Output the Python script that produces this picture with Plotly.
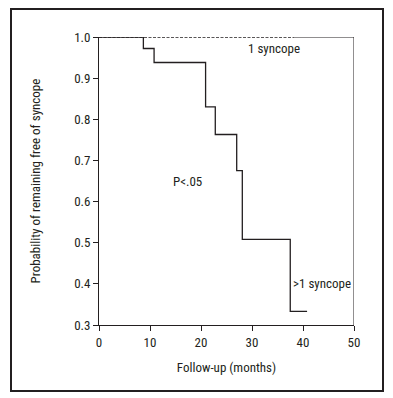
import plotly.graph_objects as go

# Data: Kaplan-Meier steps
multi_t = [0, 8.7, 10.8, 20.9, 22.8, 27.0, 28.1, 37.5, 40.8]
multi_s = [1.0, 0.972, 0.938, 0.830, 0.763, 0.675, 0.508, 0.333, 0.333]
single_t = [0, 38.3]
single_s = [1.0, 1.0]
x_ticks = [0, 10, 20, 30, 40, 50]
y_ticks = [0.3, 0.4, 0.5, 0.6, 0.7, 0.8, 0.9, 1.0]

FONT = "Liberation Sans Narrow, Roboto Condensed, Arial Narrow, Liberation Sans, sans-serif"
INK = "#231f20"
FS = 13

fig = go.Figure()
fig.add_trace(go.Scatter(x=single_t, y=single_s, mode="lines",
                         line=dict(color=INK, width=1.5, dash="3px,1.5px"),
                         line_shape="hv", showlegend=False, cliponaxis=False))
fig.add_trace(go.Scatter(x=multi_t, y=multi_s, mode="lines",
                         line=dict(color=INK, width=1.3),
                         line_shape="hv", showlegend=False, cliponaxis=False))

# top frame segment beyond the dashed curve
fig.add_shape(type="line", xref="x", yref="y", x0=single_t[-1], x1=50, y0=1.0, y1=1.0,
              line=dict(color=INK, width=1))
# right frame
fig.add_shape(type="line", xref="x", yref="paper", x0=50, x1=50, y0=0, y1=1,
              line=dict(color=INK, width=1))
# outer border
fig.add_shape(type="rect", xref="paper", yref="paper",
              x0=-88/255, x1=1 + 29/255, y0=-66/288, y1=1 + 28/288,
              line=dict(color=INK, width=2))

fig.add_annotation(x=34.3, y=0.973, text="1 syncope", showarrow=False,
                   font=dict(size=FS, color=INK, family=FONT))
fig.add_annotation(x=17.3, y=0.65, text="P<.05", showarrow=False,
                   font=dict(size=FS, color=INK, family=FONT))
fig.add_annotation(x=43.8, y=0.401, text=">1 syncope", showarrow=False,
                   font=dict(size=FS, color=INK, family=FONT))

fig.update_layout(
    width=385, height=390,
    margin=dict(l=91, r=39, t=29, b=73),
    plot_bgcolor="white", paper_bgcolor="white",
    font=dict(family=FONT, size=FS, color=INK),
    xaxis=dict(range=[0, 50], tickvals=x_ticks, ticks="outside", ticklen=5,
               tickcolor=INK, showline=True, linecolor=INK, linewidth=1,
               showgrid=False, zeroline=False,
               title=dict(text="Follow-up (months)", standoff=14,
                          font=dict(size=FS, family=FONT))),
    yaxis=dict(range=[0.3, 1.0], tickvals=y_ticks, tickformat=".1f",
               ticks="outside", ticklen=5, tickcolor=INK,
               showline=True, linecolor=INK, linewidth=1,
               showgrid=False, zeroline=False,
               title=dict(text="Probability of remaining free of syncope", standoff=30,
                          font=dict(size=FS, family=FONT))),
)

fig.write_html("out.html")
